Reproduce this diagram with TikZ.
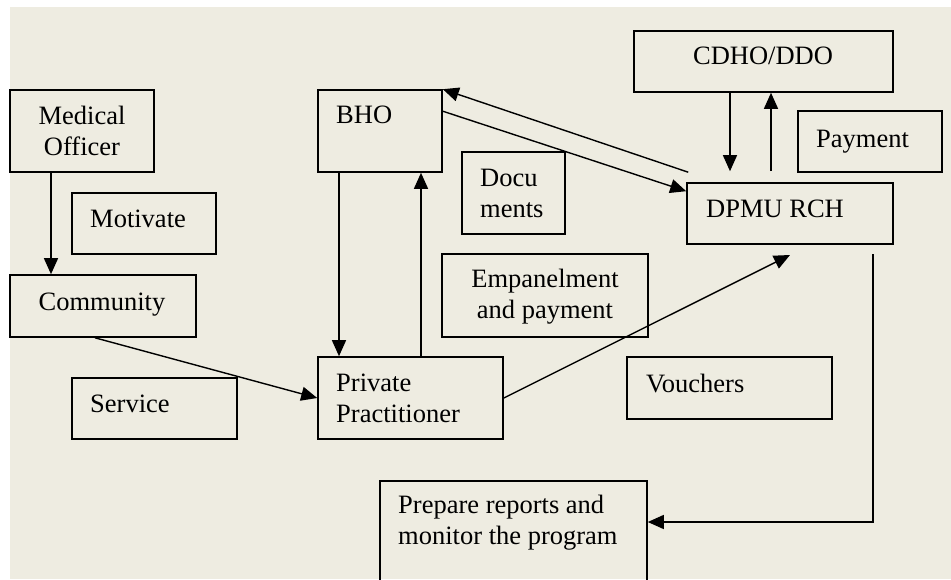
\documentclass[tikz,border=0pt]{standalone}
\usepackage{fontspec}
\setmainfont{Liberation Serif}
\usetikzlibrary{arrows.meta}
\definecolor{bg}{HTML}{EEECE1}
\begin{document}
\begin{tikzpicture}[x=1pt,y=-1pt,
  box/.style={draw, line width=1.6pt, inner sep=0pt, rectangle},
  lbl/.style={inner sep=0pt, align=left, font=\fontsize{26.5}{31}\selectfont},
  lblc/.style={inner sep=0pt, align=center, font=\fontsize{26.5}{31}\selectfont},
  arr/.style={line width=1.4pt, -{Triangle[length=16pt,width=14pt]}}]
\useasboundingbox (0,0) rectangle (951,579);
\clip (0,0) rectangle (951,579);
\fill[bg] (10,7) rectangle (951,579);
% boxes
\node[box, minimum width=144pt, minimum height=82pt] (mo) at (82,131) {};
\node[box, minimum width=144pt, minimum height=61pt] (mot) at (144,223.5) {};
\node[box, minimum width=186pt, minimum height=62pt] (com) at (103,306) {};
\node[box, minimum width=165pt, minimum height=61pt] (svc) at (154.5,408.5) {};
\node[box, minimum width=185pt, minimum height=82pt] (pp) at (410.5,398) {};
\node[box, minimum width=124pt, minimum height=82pt] (bho) at (380,131) {};
\node[box, minimum width=103pt, minimum height=82pt] (doc) at (513.5,193) {};
\node[box, minimum width=206pt, minimum height=83pt] (emp) at (545,295.5) {};
\node[box, minimum width=205pt, minimum height=62pt] (vou) at (729.5,388) {};
\node[box, minimum width=259pt, minimum height=61pt] (cdho) at (763.5,61.5) {};
\node[box, minimum width=144pt, minimum height=61pt] (pay) at (870,141.5) {};
\node[box, minimum width=206pt, minimum height=61pt] (dpmu) at (790,213.5) {};
\node[box, minimum width=267pt, minimum height=139pt] (prep) at (513.5,550.5) {};
% labels (multi-line labels are anchored on their last baseline)
\node[lblc, anchor=base] (tmo) at (82,155) {Medical\\Officer};
\node[lbl, anchor=base west] (tmot) at (90,227) {Motivate};
\node[lblc, anchor=base] (tcom) at (102,310) {Community};
\node[lbl, anchor=base west] (tsvc) at (90,412) {Service};
\node[lbl, anchor=base west] (tpp) at (336,422) {Private\\Practitioner};
\node[lbl, anchor=base west] (tbho) at (336,123) {BHO};
\node[lbl, anchor=base west] (tdoc) at (480,217) {Docu\\ments};
\node[lblc, anchor=base] (temp) at (545,318) {Empanelment\\and payment};
\node[lbl, anchor=base west] (tvou) at (646,392) {Vouchers};
\node[lblc, anchor=base] (tcdho) at (763,64) {CDHO/DDO};
\node[lbl, anchor=base west] (tpay) at (816,147) {Payment};
\node[lbl, anchor=base west] (tdpmu) at (706,217) {DPMU RCH};
\node[lbl, anchor=base west] (tprep) at (398,544) {Prepare reports and\\monitor the program};
% connectors
\draw[arr] (mo.south -| 51,0) -- (com.north -| 51,0);
\draw[arr] ([xshift=-8pt]com.south) -- (pp.west);
\draw[arr] (bho.south -| 339,0) -- (pp.north -| 339,0);
\draw[arr] (pp.north -| 421,0) -- (bho.south -| 421,0);
\draw[arr] ([yshift=-22pt]bho.north east) -- ([yshift=-9pt]dpmu.north west);
\draw[arr] ([xshift=2pt,yshift=10pt]dpmu.north west) -- (bho.north east);
\draw[arr, shorten >=11pt] (cdho.south -| 730,0) -- (dpmu.north -| 730,0);
\draw[arr] ([yshift=11pt]dpmu.north -| 771,0) -- (cdho.south -| 771,0);
\coordinate (vt) at (790,255);
\draw[arr] (pp.east) -- (vt);
\coordinate (dout) at (873,254);
\coordinate (dturn) at (873,522);
\draw[arr] (dout) -- (dturn) -- (prep.east |- dturn);
\end{tikzpicture}
\end{document}
